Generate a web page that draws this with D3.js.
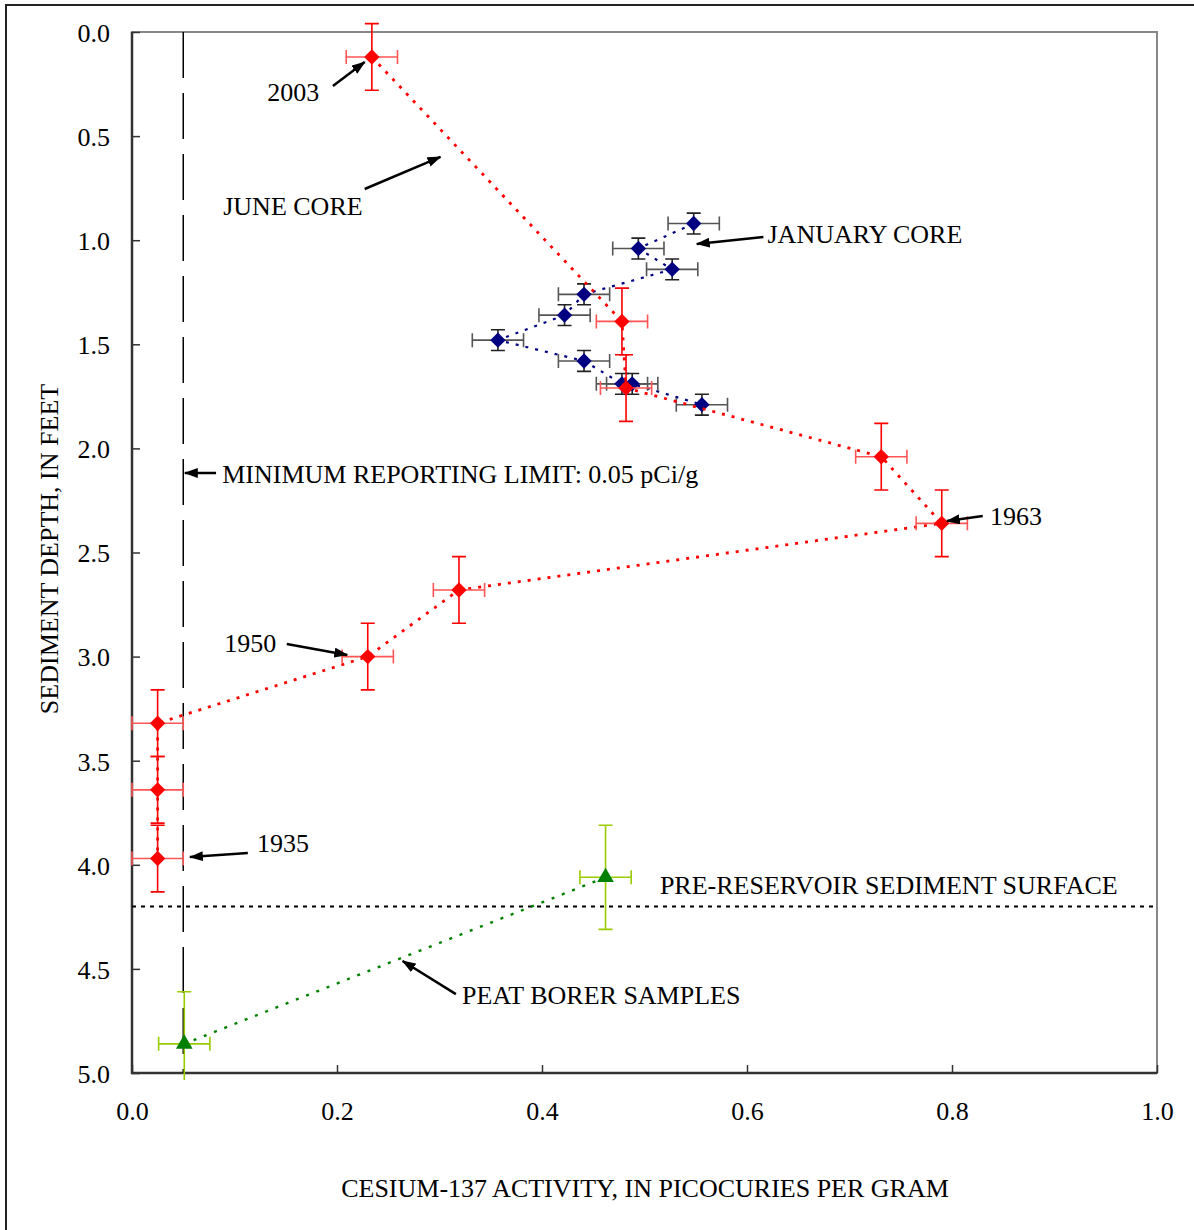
<!DOCTYPE html>
<html>
<head>
<meta charset="utf-8">
<script src="https://cdn.jsdelivr.net/npm/d3@7"></script>
<style>
body { margin: 0; background: white; }
text { font-family: "Liberation Serif", "Times New Roman", serif; fill: black; }
</style>
</head>
<body>
<script>
// June core (red)
var juneActivity = [0.234, 0.478, 0.482, 0.731, 0.790, 0.319, 0.230, 0.025, 0.025, 0.025];
var juneDepth    = [0.12, 1.39, 1.71, 2.04, 2.36, 2.68, 3.00, 3.32, 3.64, 3.97];
var juneActErr   = [0.025, 0.025, 0.025, 0.025, 0.025, 0.025, 0.025, 0.025, 0.025, 0.025];
var juneDepthErr = [0.16, 0.16, 0.16, 0.16, 0.16, 0.16, 0.16, 0.16, 0.16, 0.16];

// January core (navy)
var janActivity = [0.548, 0.494, 0.527, 0.441, 0.422, 0.357, 0.441, 0.478, 0.488, 0.556];
var janDepth    = [0.92, 1.04, 1.14, 1.26, 1.36, 1.48, 1.58, 1.69, 1.69, 1.79];
var janActErr   = [0.025, 0.025, 0.025, 0.025, 0.025, 0.025, 0.025, 0.025, 0.025, 0.025];
var janDepthErr = [0.05, 0.05, 0.05, 0.05, 0.05, 0.05, 0.05, 0.05, 0.05, 0.05];

// peat borer samples (green)
var peatActivity = [0.462, 0.051];
var peatDepth    = [4.06, 4.86];
var peatActErr   = [0.025, 0.025];
var peatDepthErr = [0.25, 0.25];

var xTicks = [0, 0.2, 0.4, 0.6, 0.8, 1.0];
var yTicks = [0, 0.5, 1.0, 1.5, 2.0, 2.5, 3.0, 3.5, 4.0, 4.5, 5.0];

var reportingLimit = 0.05;
var surfaceDepth = 4.2;

// annotations: label position and arrow (from -> to), in data units
var labels = [
	{text: "2003", x: 0.132, y: 0.331, from: [0.196, 0.259], to: [0.227, 0.144]},
	{text: "JUNE CORE", x: 0.089, y: 0.879, from: [0.227, 0.754], to: [0.301, 0.600]},
	{text: "JANUARY CORE", x: 0.620, y: 1.013, from: [0.616, 0.985], to: [0.551, 1.018]},
	{text: "MINIMUM REPORTING LIMIT: 0.05 pCi/g", x: 0.088, y: 2.166, from: [0.082, 2.118], to: [0.0515, 2.118]},
	{text: "1963", x: 0.837, y: 2.368, from: [0.830, 2.325], to: [0.795, 2.349]},
	{text: "1950", x: 0.090, y: 2.978, from: [0.151, 2.939], to: [0.210, 2.992]},
	{text: "1935", x: 0.122, y: 3.939, from: [0.113, 3.943], to: [0.0565, 3.963]},
	{text: "PRE-RESERVOIR SEDIMENT SURFACE", x: 0.515, y: 4.140},
	{text: "PEAT BORER SAMPLES", x: 0.322, y: 4.669, from: [0.316, 4.621], to: [0.264, 4.462]}
];

var width = 1194;
var height = 1230;
var plot = {left: 132, right: 1157, top: 32, bottom: 1073};
var fontSize = 26;

var svg = d3.select("body").append("svg")
		.attr("width", width)
		.attr("height", height)

var defs = svg.append("defs")

defs.append("marker")
		.attr("id", "arrow")
		.attr("viewBox", "0 0 14 10")
		.attr("refX", 13)
		.attr("refY", 5)
		.attr("markerWidth", 14)
		.attr("markerHeight", 10)
		.attr("markerUnits", "userSpaceOnUse")
		.attr("orient", "auto")
	.append("path")
		.attr("d", "M0,0 L14,5 L0,10 Z")
		.attr("fill", "black")

defs.append("clipPath")
		.attr("id", "dataClip")
	.append("rect")
		.attr("x", 100)
		.attr("y", 18)
		.attr("width", 1090)
		.attr("height", 1062)

// outer frame (runs off the right and bottom edges)
svg.append("path")
		.attr("d", "M6,1240 L6,5 L1200,5")
		.attr("fill", "none")
		.attr("stroke", "#222")
		.attr("stroke-width", 2)

var xScale = d3.scaleLinear()
	.domain([0, 1])
	.range([plot.left, plot.right])

var yScale = d3.scaleLinear()
	.domain([0, 5])
	.range([plot.top, plot.bottom])

// plot area border
svg.append("rect")
		.attr("x", plot.left)
		.attr("y", plot.top)
		.attr("width", plot.right - plot.left)
		.attr("height", plot.bottom - plot.top)
		.attr("fill", "white")
		.attr("stroke", "#888")
		.attr("stroke-width", 2)

var fmt = d3.format(".1f");

var yAxis = svg.append("g")
	.attr("transform", "translate(" + plot.left + ",0)")
	.call(
		d3.axisLeft(yScale)
			.tickValues(yTicks)
			.tickSize(-8)
			.tickPadding(22)
			.tickFormat(fmt)
	);

var xAxis = svg.append("g")
	.attr("transform", "translate(0," + plot.bottom + ")")
	.call(
		d3.axisBottom(xScale)
			.tickValues(xTicks)
			.tickSize(-8)
			.tickPadding(29)
			.tickFormat(fmt)
	);

svg.selectAll(".domain").remove();
svg.selectAll(".tick line")
		.attr("stroke", "#333")
		.attr("stroke-width", 1.5)
svg.selectAll(".tick text")
		.style("font-family", "Liberation Serif")
		.style("font-size", fontSize + "px")
		.attr("fill", "black")
yAxis.selectAll(".tick text").attr("dy", "0.36em")

// left and bottom axis lines
svg.append("path")
		.attr("d", "M" + plot.left + "," + plot.top + " L" + plot.left + "," + plot.bottom + " L" + plot.right + "," + plot.bottom)
		.attr("fill", "none")
		.attr("stroke", "#333")
		.attr("stroke-width", 2.5)

// axis titles
svg.append("text")
		.attr("x", 645)
		.attr("y", 1197)
		.attr("text-anchor", "middle")
		.style("font-size", fontSize + "px")
		.text("CESIUM-137 ACTIVITY, IN PICOCURIES PER GRAM")

svg.append("text")
		.attr("transform", "translate(58,549) rotate(-90)")
		.attr("text-anchor", "middle")
		.style("font-size", fontSize + "px")
		.text("SEDIMENT DEPTH, IN FEET")

// reference lines
svg.append("line")
		.attr("x1", xScale(reportingLimit))
		.attr("x2", xScale(reportingLimit))
		.attr("y1", plot.top)
		.attr("y2", plot.bottom)
		.attr("stroke", "black")
		.attr("stroke-width", 1.5)
		.attr("stroke-dasharray", "46,15")

svg.append("line")
		.attr("x1", plot.left)
		.attr("x2", plot.right)
		.attr("y1", yScale(surfaceDepth))
		.attr("y2", yScale(surfaceDepth))
		.attr("stroke", "black")
		.attr("stroke-width", 2)
		.attr("stroke-dasharray", "4,5")

var zipSeries = (xs, ys, xe, ye) => xs.map((v, i) => ({x: v, y: ys[i], xe: xe[i], ye: ye[i]}));

var diamond = d3.symbol().type(d3.symbolSquare).size(118);
var triangle = d3.symbol().type(d3.symbolTriangle).size(120);

var drawSeries = (data, opts) => {
	var g = svg.append("g")
			.attr("clip-path", "url(#dataClip)")

	g.append("path")
			.datum(data)
			.attr("fill", "none")
			.attr("stroke", opts.color)
			.attr("stroke-width", opts.lineWidth)
			.attr("stroke-dasharray", opts.dash)
			.attr("d", d3.line().x(d => xScale(d.x)).y(d => yScale(d.y)))

	var cap = 7;
	var bars = g.selectAll(".err")
		.data(data)
		.enter().append("g")
			.attr("class", "err")
			.attr("stroke", opts.errColor)
			.attr("stroke-width", 1.6)

	bars.append("path")
			.attr("d", d => {
				var cx = xScale(d.x), y0 = yScale(d.y - d.ye), y1 = yScale(d.y + d.ye);
				return "M" + cx + "," + y0 + " L" + cx + "," + y1 +
					" M" + (cx - cap) + "," + y0 + " L" + (cx + cap) + "," + y0 +
					" M" + (cx - cap) + "," + y1 + " L" + (cx + cap) + "," + y1;
			})

	bars.append("path")
			.attr("stroke", opts.hErrColor || opts.errColor)
			.attr("d", d => {
				var cy = yScale(d.y), x0 = xScale(d.x - d.xe), x1 = xScale(d.x + d.xe);
				return "M" + x0 + "," + cy + " L" + x1 + "," + cy +
					" M" + x0 + "," + (cy - cap) + " L" + x0 + "," + (cy + cap) +
					" M" + x1 + "," + (cy - cap) + " L" + x1 + "," + (cy + cap);
			})

	g.selectAll(".mark")
		.data(data)
		.enter().append("path")
			.attr("class", "mark")
			.attr("d", opts.symbol)
			.attr("fill", opts.color)
			.attr("transform", d => "translate(" + xScale(d.x) + "," + yScale(d.y) + ")" + (opts.rotate ? " rotate(45)" : ""))
}

drawSeries(zipSeries(janActivity, janDepth, janActErr, janDepthErr), {
	color: "#000080", errColor: "#222", hErrColor: "#555", lineWidth: 2.2, dash: "3,7", symbol: diamond, rotate: true
});

drawSeries(zipSeries(juneActivity, juneDepth, juneActErr, juneDepthErr), {
	color: "#ff0000", errColor: "#ff0000", hErrColor: "#ff5555", lineWidth: 2.8, dash: "3,7", symbol: diamond, rotate: true
});

drawSeries(zipSeries(peatActivity, peatDepth, peatActErr, peatDepthErr), {
	color: "#008000", errColor: "#99cc00", lineWidth: 2.4, dash: "3,8", symbol: triangle, rotate: false
});

// annotations
var notes = svg.append("g").attr("class", "notes")

labels.forEach(l => {
	notes.append("text")
			.attr("x", xScale(l.x))
			.attr("y", yScale(l.y))
			.style("font-size", fontSize + "px")
			.text(l.text)

	if (l.from) {
		notes.append("line")
				.attr("x1", xScale(l.from[0]))
				.attr("y1", yScale(l.from[1]))
				.attr("x2", xScale(l.to[0]))
				.attr("y2", yScale(l.to[1]))
				.attr("stroke", "black")
				.attr("stroke-width", 2.5)
				.attr("marker-end", "url(#arrow)")
	}
});
</script>
</body>
</html>
